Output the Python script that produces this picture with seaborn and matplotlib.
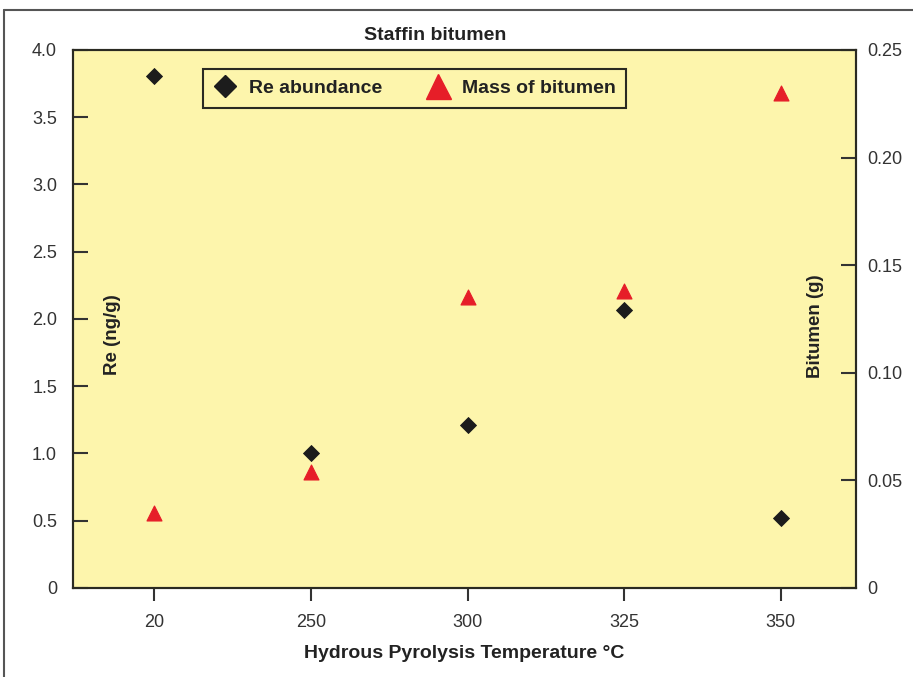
import matplotlib.pyplot as plt
import seaborn as sns
import pandas as pd
from matplotlib.lines import Line2D

temps = ['20', '250', '300', '325', '350']
re_abundance = [3.81, 1.0, 1.21, 2.07, 0.52]
bitumen_mass = [0.035, 0.054, 0.135, 0.138, 0.230]
re_ticks = [0, 0.5, 1.0, 1.5, 2.0, 2.5, 3.0, 3.5, 4.0]
re_labels = ['0', '0.5', '1.0', '1.5', '2.0', '2.5', '3.0', '3.5', '4.0']
bit_ticks = [0, 0.05, 0.10, 0.15, 0.20, 0.25]
bit_labels = ['0', '0.05', '0.10', '0.15', '0.20', '0.25']

df = pd.DataFrame({'temp': temps, 're': re_abundance, 'bitumen': bitumen_mass})

sns.set_style('white')
plt.rcParams['font.family'] = ['Liberation Sans', 'DejaVu Sans']

yellow = '#fdf5ac'
red = '#e61e28'
dark = '#1c1c1c'
txt = '#222222'

fig = plt.figure(figsize=(9.13, 6.77), dpi=100)
ax = fig.add_axes([0.080, 0.1315, 0.8576, 0.7947])
ax.set_facecolor(yellow)
ax2 = ax.twinx()

sns.scatterplot(data=df, x='temp', y='re', marker='D', s=66, color=dark,
                edgecolor=dark, ax=ax, legend=False, zorder=3)
sns.scatterplot(data=df, x='temp', y='bitumen', marker='^', s=115, color=red,
                edgecolor=red, ax=ax2, legend=False, zorder=3)

ax.set_xlim(-0.52, 4.48)
ax.set_ylim(0, 4.0)
ax2.set_ylim(0, 0.25)
ax.set_yticks(re_ticks)
ax.set_yticklabels(re_labels)
ax2.set_yticks(bit_ticks)
ax2.set_yticklabels(bit_labels)
ax.set_xlabel('Hydrous Pyrolysis Temperature °C', fontsize=14, fontweight='bold',
              color=txt, labelpad=10)
ax.set_ylabel('')
ax2.set_ylabel('')

ax.tick_params(axis='y', direction='in', length=11, width=1.5, colors='#333333',
               labelsize=13, pad=11.5)
ax2.tick_params(axis='y', direction='in', length=11, width=1.5, colors='#333333',
                labelsize=13, pad=8)
ax.tick_params(axis='x', direction='out', length=9, width=1.5, colors='#333333',
               labelsize=13, pad=10, bottom=True)
for a in (ax, ax2):
    for sp in a.spines.values():
        sp.set_linewidth(1.5)
        sp.set_color('#2a2a22')

ax.text(0.051, 0.47, 'Re (ng/g)', transform=ax.transAxes, rotation=90,
        ha='center', va='center', fontsize=13.5, fontweight='bold', color=txt)
ax2.text(0.948, 0.487, 'Bitumen (g)', transform=ax2.transAxes, rotation=90,
         ha='center', va='center', fontsize=13.5, fontweight='bold', color=txt)
fig.text(435 / 913, 1 - 35.5 / 677, 'Staffin bitumen', ha='center', va='center',
         fontsize=14, fontweight='bold', color=txt)

handles = [
    Line2D([], [], marker='D', linestyle='', color=dark, markersize=11.5),
    Line2D([], [], marker='^', linestyle='', color=red, markersize=18),
]
leg = ax2.legend(handles, ['Re abundance', 'Mass of bitumen'], ncol=2,
                 loc='upper left', bbox_to_anchor=(0.166, 0.9647),
                 borderaxespad=0,
                 frameon=True, fancybox=False, facecolor=yellow, framealpha=1,
                 edgecolor='#2a2a22', prop={'weight': 'bold', 'size': 14},
                 handletextpad=0.6, columnspacing=2.3, borderpad=0.55,
                 handlelength=1.2)
leg.get_frame().set_linewidth(1.5)
for t in leg.get_texts():
    t.set_color(txt)

# outer frame lines (left and top)
fig.add_artist(Line2D([4 / 913, 4 / 913], [0, 1 - 10 / 677], transform=fig.transFigure,
                      color='#555555', linewidth=1.5))
fig.add_artist(Line2D([4 / 913, 1], [1 - 10 / 677, 1 - 10 / 677], transform=fig.transFigure,
                      color='#555555', linewidth=1.5))

fig.savefig('out.png', dpi=100)
